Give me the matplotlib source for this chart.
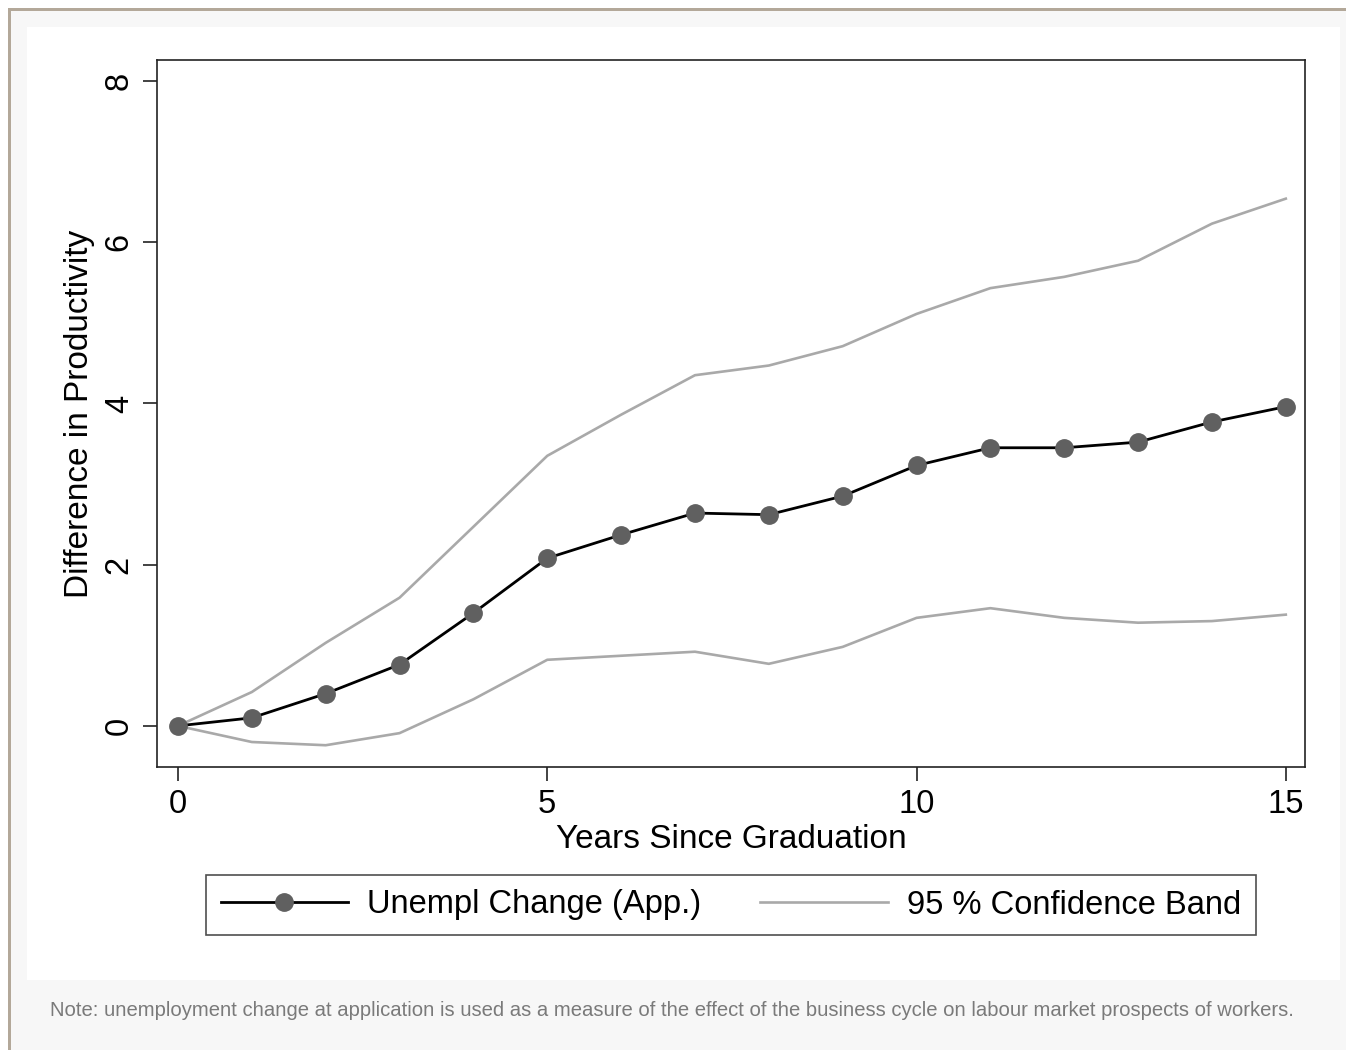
import matplotlib
matplotlib.use("Agg")
import matplotlib.pyplot as plt
from matplotlib.patches import Rectangle

plt.rcParams["font.family"] = ["Liberation Sans", "DejaVu Sans"]

# --- data ---
YEARS = list(range(16))
UNEMPL_CHANGE = [0.0, 0.10, 0.40, 0.76, 1.40, 2.08, 2.37, 2.64, 2.62, 2.85,
                 3.23, 3.45, 3.45, 3.52, 3.77, 3.96]
BAND_UPPER = [0.0, 0.42, 1.03, 1.59, 2.47, 3.35, 3.86, 4.35, 4.47, 4.71,
              5.11, 5.43, 5.57, 5.77, 6.23, 6.54]
BAND_LOWER = [0.0, -0.20, -0.24, -0.09, 0.33, 0.82, 0.87, 0.92, 0.77, 0.98,
              1.34, 1.46, 1.34, 1.28, 1.30, 1.38]
X_TICKS = [0, 5, 10, 15]
Y_TICKS = [0, 2, 4, 6, 8]

NOTE = ("Note: unemployment change at application is used as a measure of the effect "
        "of the business cycle on labour market prospects of workers.")

W, H = 1346, 1050
fig = plt.figure(figsize=(W / 100, H / 100), dpi=100)
fig.patch.set_facecolor("white")

# page frame: tan border, light grey page, white chart panel
fig.patches.append(Rectangle((8 / W, 0), 1, 1 - 8 / H, transform=fig.transFigure,
                             facecolor="#b3a899", edgecolor="none", zorder=-3))
fig.patches.append(Rectangle((11 / W, 0), 1, 1 - 11 / H, transform=fig.transFigure,
                             facecolor="#f7f7f7", edgecolor="none", zorder=-2))
fig.patches.append(Rectangle((27 / W, 1 - 980 / H), (1340 - 27) / W, (980 - 27) / H,
                             transform=fig.transFigure, facecolor="white",
                             edgecolor="none", zorder=-1))

ax = fig.add_axes([157 / W, 1 - 767 / H, (1305 - 157) / W, (767 - 60) / H])
ax.set_facecolor("white")

band_color = "#a9a9a9"
ax.plot(YEARS, BAND_UPPER, color=band_color, linewidth=1.9, zorder=2,
        label="95 % Confidence Band")
ax.plot(YEARS, BAND_LOWER, color=band_color, linewidth=1.9, zorder=2)
ax.plot(YEARS, UNEMPL_CHANGE, color="black", linewidth=2.0, marker="o",
        markersize=12.5, markerfacecolor="#606060", markeredgecolor="#606060",
        zorder=3, label="Unempl Change (App.)")

ax.set_xlim(-0.284, 15.26)
ax.set_ylim(-0.51, 8.26)
ax.set_xticks(X_TICKS)
ax.set_yticks(Y_TICKS)
ax.tick_params(axis="both", direction="out", length=10, width=1.2, color="#222222",
               labelsize=23.5, pad=6)
for lbl in ax.get_yticklabels():
    lbl.set_rotation(90)
    lbl.set_va("center")
for sp in ax.spines.values():
    sp.set_color("#222222")
    sp.set_linewidth(1.2)

ax.set_xlabel("Years Since Graduation", fontsize=24, labelpad=3)
ax.set_ylabel("Difference in Productivity", fontsize=24, labelpad=6)

handles, labels = ax.get_legend_handles_labels()
leg = fig.legend(handles[::-1], labels[::-1], loc="center",
                 bbox_to_anchor=(0.5431, 1 - 905 / H), ncol=2, fontsize=23.5,
                 frameon=True, fancybox=False, handlelength=3.9,
                 handletextpad=0.6, columnspacing=1.8, borderpad=0.45,
                 borderaxespad=0)
leg.get_frame().set_edgecolor("#222222")
leg.get_frame().set_linewidth(1.2)

fig.text(50 / W, 1 - 1010 / H, NOTE, ha="left", va="center", fontsize=14.6,
         color="#7a7a7a")

fig.savefig("out.png", dpi=100)
